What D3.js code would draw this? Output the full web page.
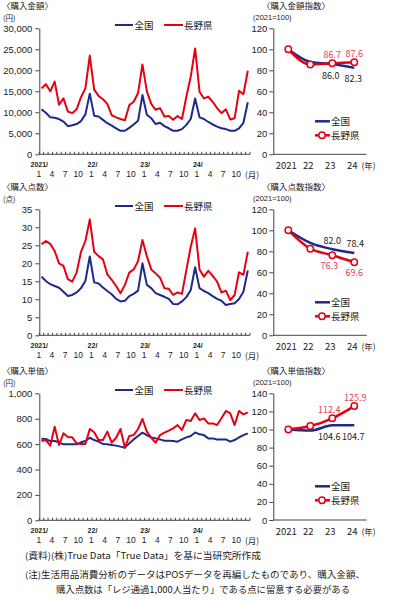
<!DOCTYPE html>
<html><head><meta charset="utf-8">
<script src="https://cdn.jsdelivr.net/npm/d3@7"></script>
<style>
body{margin:0;background:#fff;}
svg{display:block;font-family:"Noto Sans CJK JP","Noto Sans",sans-serif;}
</style></head><body>
<svg id="c" width="398" height="602"></svg>
<script>
// ---- data ----
const monthTicks = ["1","4","7","10"];
const yearLabels = ["2021/","22/","23/","24/"];
const indexYears = ["2021","22","23","24"];
const seriesNames = ["全国","長野県"];

const amountAll = [10700,9900,8800,8700,8400,7800,6700,6900,7200,7900,9500,14400,
  9200,9000,8200,7400,6800,6200,5600,5600,6300,7100,8000,14100,
  9400,8600,7200,7500,6700,6200,5600,5600,6000,7000,8400,13300,
  8800,8400,7700,7100,6600,6200,6000,5600,5600,6200,7500,12400];
const amountNagano = [15700,16700,15000,17300,11800,13300,10200,9800,10700,13600,15700,23500,
  15400,13900,13100,12000,9300,8800,8400,8100,11700,12500,14600,21400,
  15000,12000,10600,11000,9000,9100,8200,9100,8400,13700,18500,25200,
  14900,13300,13700,12500,11000,9800,10700,8300,8600,15100,14300,19900];

const pointsAll = [16.3,15.1,14.2,13.7,13.2,12.1,10.9,11.2,11.9,13.1,15.1,21.9,
  14.7,14.4,13.3,12.3,11.4,10.1,9.4,9.6,10.9,11.5,12.4,20.0,
  14.0,13.1,11.7,11.2,10.7,10.1,8.7,8.6,9.4,10.6,12.6,18.9,
  13.1,12.3,11.7,10.9,10.1,9.6,8.4,8.7,8.9,10.1,12.1,18.0];
const pointsNagano = [25.3,26.2,25.4,23.4,20.0,19.3,15.6,14.9,17.4,23.2,26.2,32.2,
  23.2,22.0,21.1,16.9,15.4,13.7,11.7,14.0,17.4,18.3,20.6,26.5,
  22.0,18.3,17.2,16.0,13.1,12.9,11.2,11.9,11.5,18.1,24.6,29.7,
  18.3,16.3,17.9,16.5,14.9,11.9,12.4,9.8,11.2,17.5,16.8,23.2];

const priceAll = [643,640,624,624,614,598,598,598,598,614,624,650,
  632,619,601,598,593,588,580,572,606,637,664,690,
  671,653,645,637,627,627,624,619,637,653,664,692,
  677,671,645,645,637,637,637,619,632,653,671,685];
const priceNagano = [624,632,588,737,593,685,656,653,606,601,601,719,
  693,632,632,698,611,650,719,572,664,671,719,798,
  698,650,611,671,690,706,724,750,711,790,782,842,
  790,803,763,763,750,803,861,842,750,861,834,850];

const amountIdxAll = [100,88.0,86.0,82.3];
const amountIdxNagano = [100,85.5,86.7,87.6];
const pointsIdxAll = [100,88.0,82.0,78.4];
const pointsIdxNagano = [100,82.5,76.3,69.6];
const priceIdxAll = [100,98.8,104.6,104.7];
const priceIdxNagano = [100,103.8,112.4,125.9];

// ---- drawing ----
const svg = d3.select("#c");
const BLUE = "#1d2a8a", RED = "#e60012", LRED = "#e8404f", AX = "#444", TXT = "#222";
const NUMFONT = "'Liberation Sans', Arial, sans-serif";

function styleAxis(sel, fs){
  sel.attr("font-family", NUMFONT).attr("font-size", fs);
  sel.select(".domain").attr("stroke", AX).attr("stroke-width", 1);
  sel.selectAll(".tick line").attr("stroke", AX);
  sel.selectAll(".tick text").attr("fill", TXT).attr("font-size", fs);
}

function leftChart(cfg){
  const g = svg.append("g");
  const x = d3.scaleBand().domain(d3.range(48)).range([39.3, 250]);
  const y = d3.scaleLinear().domain([0, cfg.max]).range([cfg.bottom, cfg.top]);
  const ya = g.append("g").attr("transform", "translate(39.3,0)")
    .call(d3.axisLeft(y).tickValues(d3.range(0, cfg.max + 1e-9, cfg.step))
      .tickSize(4).tickSizeOuter(0).tickPadding(3).tickFormat(cfg.fmt));
  styleAxis(ya, 9.5);
  // x axis
  g.append("line").attr("x1", 39.3).attr("x2", 250).attr("y1", cfg.bottom).attr("y2", cfg.bottom)
    .attr("stroke", AX);
  g.selectAll(".xt").data(d3.range(49)).join("line")
    .attr("x1", i => i < 48 ? x(i) : 250).attr("x2", i => i < 48 ? x(i) : 250)
    .attr("y1", cfg.bottom).attr("y2", cfg.bottom - 2.5).attr("stroke", AX);
  g.selectAll(".ml").data(d3.range(0, 48, 3)).join("text")
    .attr("x", i => x(i) - 0.5).attr("y", cfg.bottom + 19.5)
    .attr("text-anchor", "middle").attr("dominant-baseline", "central")
    .attr("font-size", 8.5).attr("font-family", NUMFONT).attr("fill", TXT)
    .text(i => monthTicks[(i / 3) % 4]);
  g.selectAll(".yl").data(d3.range(0, 48, 12)).join("text")
    .attr("x", i => x(i) + (i === 0 ? 0 : 0.5)).attr("y", cfg.bottom + 10)
    .attr("text-anchor", "middle").attr("dominant-baseline", "central")
    .attr("font-size", 7).attr("font-weight", "bold").attr("font-family", NUMFONT).attr("fill", TXT)
    .text(i => yearLabels[i / 12]);
  g.append("text").attr("x", 252).attr("y", cfg.bottom + 19.5)
    .attr("text-anchor", "middle").attr("dominant-baseline", "central")
    .attr("font-size", 8.5).attr("fill", TXT).text("(月)");
  // lines
  const line = d3.line().x((d, i) => x(i) + x.bandwidth() / 2).y(d => y(d));
  g.append("path").datum(cfg.all).attr("d", line).attr("fill", "none")
    .attr("stroke", BLUE).attr("stroke-width", 2).attr("stroke-linejoin", "round");
  g.append("path").datum(cfg.nagano).attr("d", line).attr("fill", "none")
    .attr("stroke", RED).attr("stroke-width", 2).attr("stroke-linejoin", "round");
  // titles
  g.append("text").attr("x", 2).attr("y", cfg.top - 23).attr("dominant-baseline", "central")
    .attr("font-size", 8.5).attr("fill", TXT).text(cfg.title);
  g.append("text").attr("x", 3).attr("y", cfg.top - 11.3).attr("dominant-baseline", "central")
    .attr("font-size", 7.5).attr("fill", TXT).text(cfg.unit);
  // legend
  const ly = cfg.top - 3.3;
  g.append("line").attr("x1", 115).attr("x2", 133).attr("y1", ly).attr("y2", ly)
    .attr("stroke", BLUE).attr("stroke-width", 2);
  g.append("text").attr("x", 134.5).attr("y", ly).attr("dominant-baseline", "central")
    .attr("font-size", 9.5).attr("fill", TXT).text(seriesNames[0]);
  g.append("line").attr("x1", 164).attr("x2", 183).attr("y1", ly).attr("y2", ly)
    .attr("stroke", RED).attr("stroke-width", 2);
  g.append("text").attr("x", 184).attr("y", ly).attr("dominant-baseline", "central")
    .attr("font-size", 9.5).attr("fill", TXT).text(seriesNames[1]);
}

function rightChart(cfg){
  const g = svg.append("g");
  const x = d3.scalePoint().domain(indexYears).range([288.3, 354.3]);
  const y = d3.scaleLinear().domain([0, cfg.max]).range([cfg.bottom, cfg.top]);
  const ya = g.append("g").attr("transform", "translate(273.3,0)")
    .call(d3.axisLeft(y).tickValues(d3.range(0, cfg.max + 1, 20))
      .tickSize(4).tickSizeOuter(0).tickPadding(2));
  styleAxis(ya, 9.5);
  g.append("line").attr("x1", 273.3).attr("x2", 366.7).attr("y1", cfg.bottom).attr("y2", cfg.bottom)
    .attr("stroke", AX);
  g.selectAll(".xl").data(indexYears).join("text")
    .attr("x", d => x(d) - 2).attr("y", cfg.bottom + 11)
    .attr("text-anchor", "middle").attr("dominant-baseline", "central")
    .attr("font-size", 9.5).attr("fill", TXT).text(d => d);
  g.append("text").attr("x", 368.5).attr("y", cfg.bottom + 11)
    .attr("text-anchor", "middle").attr("dominant-baseline", "central")
    .attr("font-size", 8.5).attr("fill", TXT).text("(年)");
  const line = d3.line().x((d, i) => x(indexYears[i])).y(d => y(d)).curve(d3.curveMonotoneX);
  g.append("path").datum(cfg.all).attr("d", line).attr("fill", "none")
    .attr("stroke", BLUE).attr("stroke-width", 2.5);
  g.append("path").datum(cfg.nagano).attr("d", line).attr("fill", "none")
    .attr("stroke", RED).attr("stroke-width", 2.5);
  g.selectAll(".pt").data(cfg.nagano).join("circle")
    .attr("cx", (d, i) => x(indexYears[i])).attr("cy", d => y(d)).attr("r", 3.2)
    .attr("fill", "#fff").attr("stroke", RED).attr("stroke-width", 1.5);
  // value labels for 23 and 24
  [2, 3].forEach(i => {
    const aboveRed = cfg.redAbove;
    const dxv = cfg.dx[i - 2];
    g.append("text").attr("x", x(indexYears[i]) + dxv[0]).attr("y", y(cfg.nagano[i]) + (aboveRed ? -9 : 10))
      .attr("text-anchor", "middle").attr("dominant-baseline", "central")
      .attr("font-size", 9).attr("fill", LRED).text(cfg.nagano[i].toFixed(1));
    g.append("text").attr("x", x(indexYears[i]) + dxv[1]).attr("y", y(cfg.all[i]) + (aboveRed ? 11 : -9))
      .attr("text-anchor", "middle").attr("dominant-baseline", "central")
      .attr("font-size", 9).attr("fill", TXT).text(cfg.all[i].toFixed(1));
  });
  // titles
  g.append("text").attr("x", 262).attr("y", cfg.top - 23).attr("dominant-baseline", "central")
    .attr("font-size", 8.5).attr("fill", TXT).text(cfg.title);
  g.append("text").attr("x", 253).attr("y", cfg.top - 11.3).attr("dominant-baseline", "central")
    .attr("font-size", 7.5).attr("font-family", NUMFONT).attr("fill", TXT).text("(2021=100)");
  // legend
  const l1 = cfg.top + 93, l2 = cfg.top + 107;
  g.append("line").attr("x1", 315).attr("x2", 330).attr("y1", l1).attr("y2", l1)
    .attr("stroke", BLUE).attr("stroke-width", 2.5);
  g.append("text").attr("x", 331).attr("y", l1).attr("dominant-baseline", "central")
    .attr("font-size", 9.5).attr("fill", TXT).text(seriesNames[0]);
  g.append("line").attr("x1", 315).attr("x2", 330).attr("y1", l2).attr("y2", l2)
    .attr("stroke", RED).attr("stroke-width", 2.5);
  g.append("circle").attr("cx", 322).attr("cy", l2).attr("r", 3.2)
    .attr("fill", "#fff").attr("stroke", RED).attr("stroke-width", 1.5);
  g.append("text").attr("x", 331).attr("y", l2).attr("dominant-baseline", "central")
    .attr("font-size", 9.5).attr("fill", TXT).text(seriesNames[1]);
}

leftChart({title:"〈購入金額〉", unit:"(円)", max:30000, step:5000, fmt:d3.format(","),
  top:28.3, bottom:154.3, all:amountAll, nagano:amountNagano});
leftChart({title:"〈購入点数〉", unit:"(点)", max:35, step:5, fmt:d3.format("d"),
  top:209.3, bottom:335.3, all:pointsAll, nagano:pointsNagano});
leftChart({title:"〈購入単価〉", unit:"(円)", max:1000, step:200, fmt:d3.format(","),
  top:393.3, bottom:520.3, all:priceAll, nagano:priceNagano});

rightChart({title:"〈購入金額指数〉", max:120, top:28.3, bottom:154.3,
  all:amountIdxAll, nagano:amountIdxNagano, redAbove:true, dx:[[0,-1.5],[0,-1]]});
rightChart({title:"〈購入点数指数〉", max:120, top:209.3, bottom:335.3,
  all:pointsIdxAll, nagano:pointsIdxNagano, redAbove:false, dx:[[-3,0],[0,1]]});
rightChart({title:"〈購入単価指数〉", max:140, top:393.3, bottom:520,
  all:priceIdxAll, nagano:priceIdxNagano, redAbove:true, dx:[[-3,-3],[1,-1]]});

// footer
const notes = [
  {t:"(資料)(株)True Data「True Data」を基に当研究所作成", x:25, y:555, w:236},
  {t:"(注)生活用品消費分析のデータはPOSデータを再編したものであり、購入金額、", x:25, y:574, w:340},
  {t:"購入点数は「レジ通過1,000人当たり」である点に留意する必要がある", x:56, y:589, w:294}
];
svg.selectAll(".note").data(notes).join("text")
  .attr("x", d => d.x).attr("y", d => d.y).attr("dominant-baseline", "central")
  .attr("font-size", 9).attr("fill", TXT)
  .attr("textLength", d => d.w).attr("lengthAdjust", "spacingAndGlyphs")
  .text(d => d.t);
</script>
</body></html>
